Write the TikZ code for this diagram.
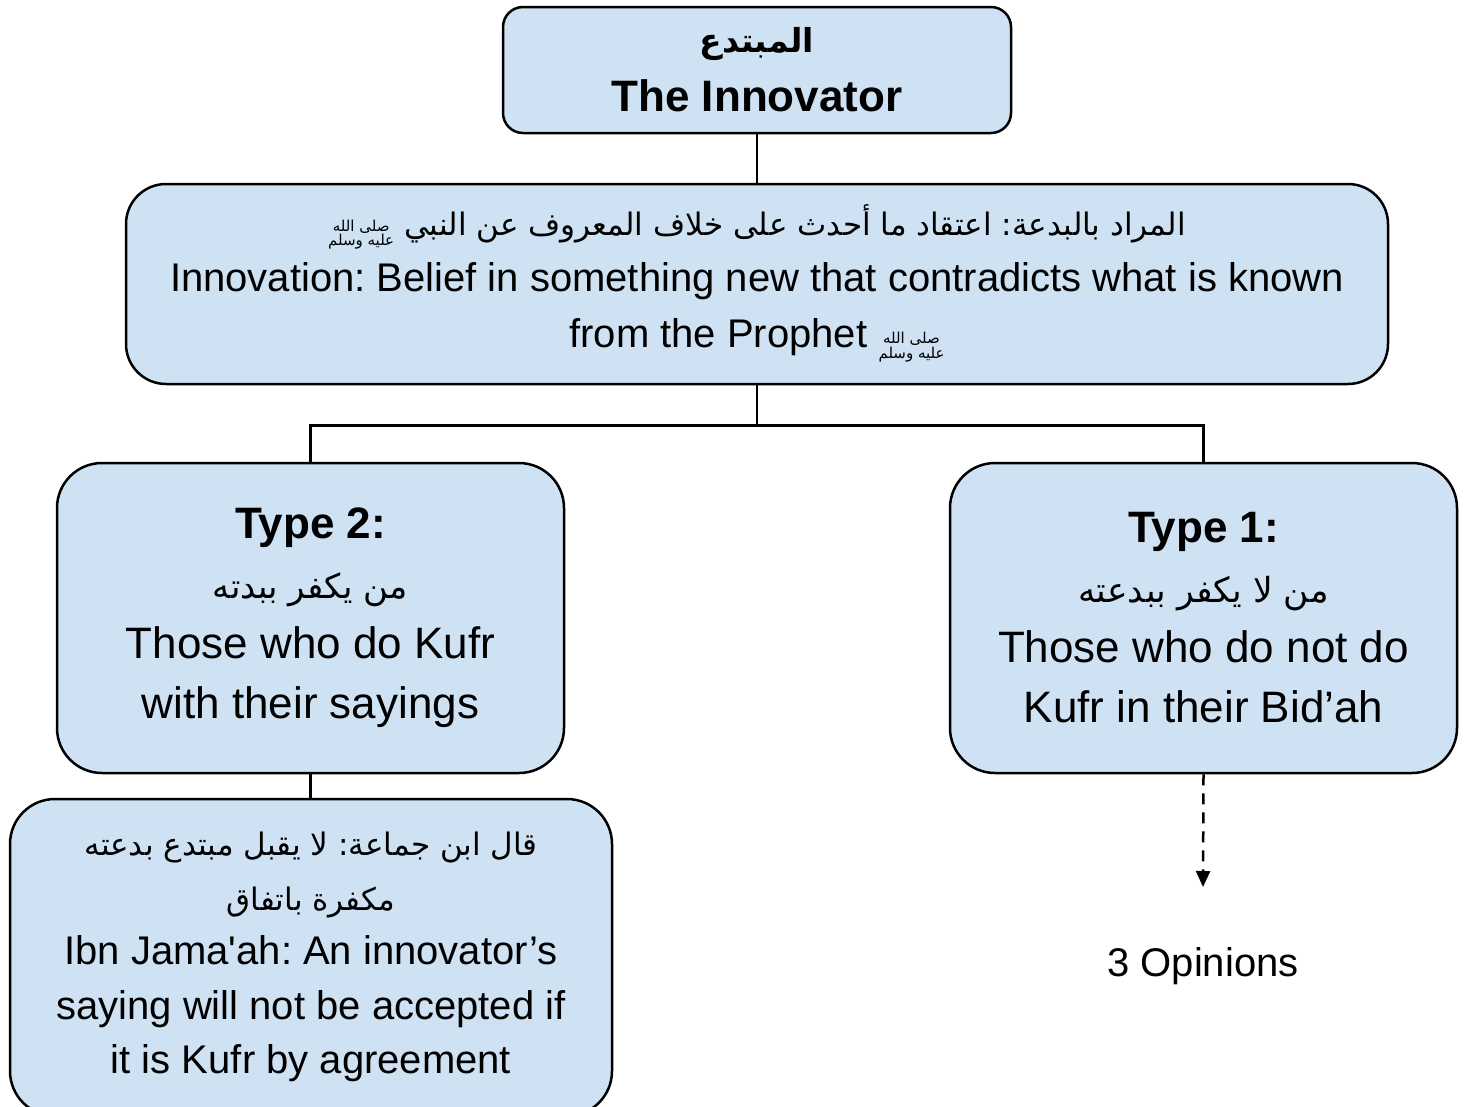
\documentclass[tikz,border=0pt]{standalone}
\usepackage{fontspec}
\setmainfont{Liberation Sans}
\newfontfamily\nomapfont[Ligatures=ResetAll]{Liberation Sans}
\newfontfamily\arabicfont[Script=Arabic]{DejaVu Sans}
\TeXXeTstate=1
\usetikzlibrary{arrows.meta}
\definecolor{boxblue}{HTML}{CFE2F3}
\newcommand\saw{\raisebox{-0.1em}{\fontsize{15}{15}\selectfont\arabicfont\begin{tabular}{@{}c@{}}\beginR صلى الله\endR\\[-1pt]\beginR عليه وسلم\endR\end{tabular}}}
\newcommand\ar[2]{{\fontsize{#1}{#1}\selectfont\arabicfont #2}}
\newcommand\straightq{{\nomapfont '}}
\tikzset{
  box/.style={draw=black, fill=boxblue, line width=2.5pt, align=center, inner sep=0pt},
  conn/.style={draw=black, line width=2.5pt},
}
\begin{document}
\frenchspacing
\begin{tikzpicture}[x=1pt,y=-1pt]
\useasboundingbox (0,0) rectangle (1466,1106);
\clip (0,0) rectangle (1466,1106);
\node[box, rounded corners=20pt, minimum width=508pt, minimum height=126pt,
      font=\fontsize{44}{59}\selectfont] (top) at (757,70)
  {{\bfseries\ar{33}{\beginR المبتدع\endR}}\\ {\bfseries The Innovator}};
\node[box, rounded corners=40pt, minimum width=1262pt, minimum height=200pt,
      font=\fontsize{40}{56}\selectfont] (def) at (757,284)
  {\ar{31}{\beginR المراد بالبدعة: اعتقاد ما أحدث على خلاف المعروف عن النبي \saw\endR}\\
   Innovation: Belief in something new that contradicts what is known\\
   from the Prophet \saw};
\node[box, rounded corners=45pt, minimum width=507pt, minimum height=310pt,
      font=\fontsize{44}{60}\selectfont] (t2) at (310.5,618)
  {{\bfseries Type 2:}\\
   \ar{34}{\beginR من يكفر ببدته\endR}\\
   Those who do Kufr\\
   with their sayings};
\node[box, rounded corners=45pt, minimum width=507pt, minimum height=310pt,
      font=\fontsize{44}{60}\selectfont] (t1) at (1203.5,618)
  {{\bfseries Type 1:}\\
   \ar{34.5}{\beginR من لا يكفر ببدعته\endR}\\
   Those who do not do\\
   Kufr in their Bid’ah};
\node[box, rounded corners=45pt, minimum width=602pt, minimum height=317pt] (ij) at (311,957.5) {};
\node[align=center, inner sep=0pt, font=\fontsize{40}{54.5}\selectfont] (ijtext) at (311,957)
  {\ar{31}{\beginR قال ابن جماعة: لا يقبل مبتدع بدعته\endR}\\
   \ar{31}{\beginR مكفرة باتفاق\endR}\\
   Ibn Jama\straightq ah: An innovator’s\\
   saying will not be accepted if\\
   it is Kufr by agreement};
\node[inner sep=0pt, font=\fontsize{40}{48}\selectfont] (op) at (1203,966) {3 Opinions};
\coordinate (arrEnd) at (1203,887);
\draw[conn] (top.south) -- (def.north);
\draw[conn] (def.south) -- ++(0,40) -| (t2.north);
\draw[conn] (def.south) -- ++(0,40) -| (t1.north);
\draw[conn] (t2.south) -- (t2.south |- ij.north);
\draw[conn, dash pattern=on 11pt off 8pt, -{Triangle[length=16pt,width=14pt]}] (t1.south) -- (arrEnd);
\end{tikzpicture}
\end{document}
